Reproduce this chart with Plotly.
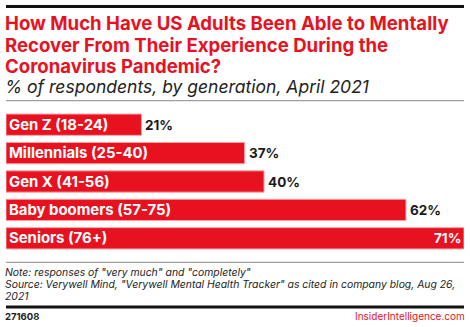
import plotly.graph_objects as go

categories = ["Gen Z (18-24)", "Millennials (25-40)", "Gen X (41-56)", "Baby boomers (57-75)", "Seniors (76+)"]
values = [21, 37, 40, 62, 71]
value_labels = ["21%", "37%", "40%", "62%", "71%"]

W, H = 470, 327
RED = "#E8111F"
FONT = "Inter"

def py(p):
    return 1 - p / H

def px(p):
    return p / W

fig = go.Figure()
fig.add_trace(go.Bar(
    y=categories, x=values, orientation="h",
    marker=dict(color=RED, line=dict(color="#F5A3A8", width=1)),
    hoverinfo="skip",
))

annotations = []
for c, v, lab in zip(categories, values, value_labels):
    annotations.append(dict(x=0, y=c, xref="x", yref="y", text=c, showarrow=False,
                            xanchor="left", xshift=1,
                            font=dict(family=FONT, size=14.9, color="white", weight="bold")))
    inside = v == max(values)
    annotations.append(dict(x=v, y=c, xref="x", yref="y", text=lab, showarrow=False,
                            xanchor="right" if inside else "left",
                            xshift=-1 if inside else 2,
                            font=dict(family=FONT, size=13.5,
                                      color="white" if inside else "#1a1a1a", weight="bold")))

def txt(text, x, y, size, color="#1a1a1a", bold=False, italic=False, anchor="left"):
    annotations.append(dict(x=px(x), y=py(y), xref="paper", yref="paper", text=text,
                            showarrow=False, xanchor=anchor, yanchor="middle",
                            font=dict(family=FONT, size=size, color=color,
                                      weight="bold" if bold else "normal",
                                      style="italic" if italic else "normal")))

txt("How Much Have US Adults Been Able to Mentally", 3, 22.5, 18.6, RED, bold=True)
txt("Recover From Their Experience During the", 3, 44.5, 18.6, RED, bold=True)
txt("Coronavirus Pandemic?", 3, 66.5, 18.6, RED, bold=True)
txt("% of respondents, by generation, April 2021", 3, 86, 17.5, "#222", italic=True)
txt('Note: responses of "very much" and "completely"', 3, 272, 10.4, "#222", italic=True)
txt('Source: Verywell Mind, "Verywell Mental Health Tracker" as cited in company blog, Aug 26,', 3, 284.5, 10.4, "#222", italic=True)
txt("2021", 3, 296.5, 10.4, "#222", italic=True)
txt("271608", 3, 316, 9.5, "#222", bold=True)
txt("InsiderIntelligence.com", 467, 316, 10, RED, anchor="right")

shapes = [
    dict(type="line", xref="paper", yref="paper", x0=px(6), x1=px(464), y0=py(6.5), y1=py(6.5),
         line=dict(color="#111", width=3)),
    dict(type="line", xref="paper", yref="paper", x0=px(6), x1=px(464), y0=py(100.7), y1=py(100.7),
         line=dict(color="#888", width=1)),
    dict(type="line", xref="paper", yref="paper", x0=px(6), x1=px(464), y0=py(262.3), y1=py(262.3),
         line=dict(color="#888", width=1)),
    dict(type="line", xref="paper", yref="paper", x0=px(6), x1=px(464), y0=py(307), y1=py(307),
         line=dict(color="#111", width=3)),
]

fig.update_layout(
    width=W, height=H,
    margin=dict(l=0, r=0, t=0, b=0),
    paper_bgcolor="white", plot_bgcolor="white",
    showlegend=False,
    bargap=0.25,
    xaxis=dict(domain=[px(6), px(464)], range=[0, 71], visible=False, fixedrange=True),
    yaxis=dict(domain=[py(252.5), py(110.5)], autorange="reversed", visible=False, fixedrange=True),
    annotations=annotations,
    shapes=shapes,
)

fig.write_html("out.html")
